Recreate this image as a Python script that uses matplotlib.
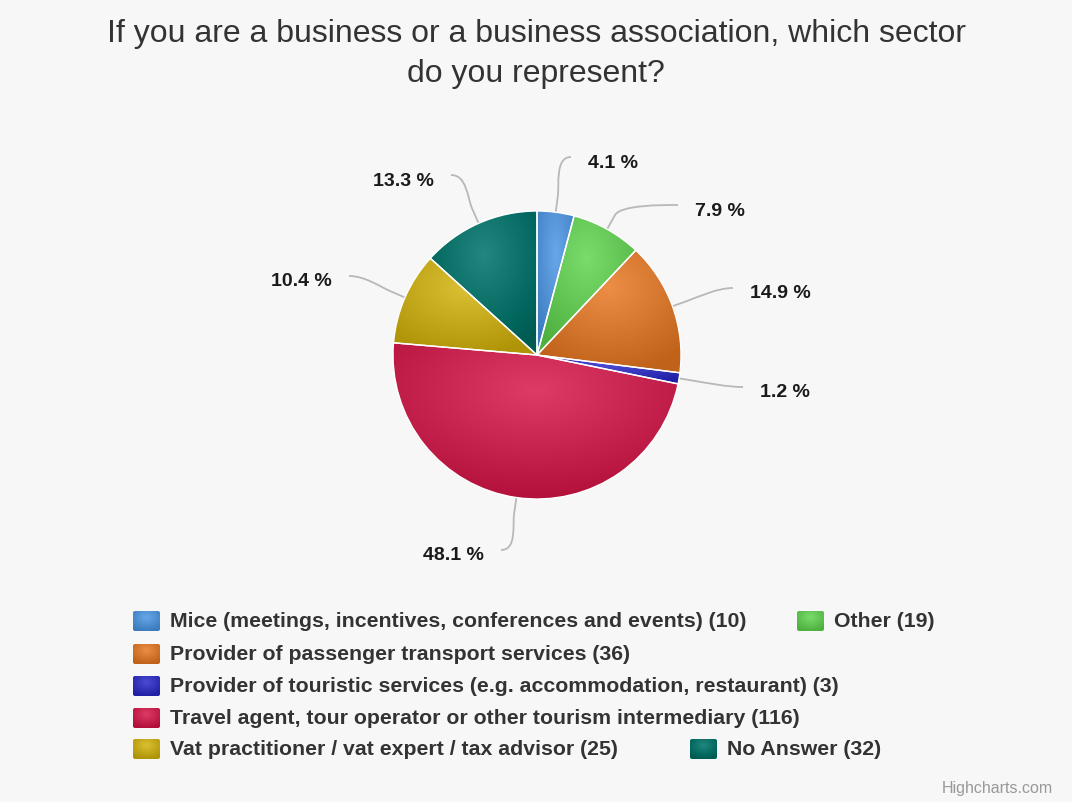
import numpy as np
import matplotlib
matplotlib.use('Agg')
import matplotlib.pyplot as plt
from matplotlib.path import Path
from matplotlib.patches import PathPatch, Wedge, Circle, FancyBboxPatch
from matplotlib.colors import to_rgb

# survey answers
title = 'If you are a business or a business association, which sector\ndo you represent?'
sectors = [
    'Mice (meetings, incentives, conferences and events)',
    'Other',
    'Provider of passenger transport services',
    'Provider of touristic services (e.g. accommodation, restaurant)',
    'Travel agent, tour operator or other tourism intermediary',
    'Vat practitioner / vat expert / tax advisor',
    'No Answer',
]
counts = [10, 19, 36, 3, 116, 25, 32]
colors = ['#68a8ea', '#7adc6a', '#ec8e46', '#4c4cd2', '#de3c66', '#dcc034', '#22887f']

W, H = 1072, 803
FONT = ['Liberation Sans', 'DejaVu Sans']

fig = plt.figure(figsize=(W / 100, H / 100), dpi=100)
fig.patch.set_facecolor('#f7f7f7')
ax = fig.add_axes([0, 0, 1, 1])
ax.set_xlim(0, W)
ax.set_ylim(H, 0)   # pixel-like coordinates, y grows downwards
ax.set_aspect('equal')
ax.axis('off')

cx, cy, R = 537, 356, 144
total = sum(counts)
fracs = np.array(counts) / total
edges = np.concatenate([[0], np.cumsum(fracs)])
# angles in data space (y down): start at the top, go clockwise on screen
th1 = -90 + 360 * edges[:-1]
th2 = -90 + 360 * edges[1:]
mid = np.radians((th1 + th2) / 2)


def gradient_rgb(base, X, Y, x0, y0, w, h, amount=0.17):
    # radial gradient in the slice's bounding box, centred at (0.5, 0.3), r = 0.7
    gx, gy = x0 + 0.5 * w, y0 + 0.3 * h
    t = np.sqrt(((X - gx) / (0.7 * w)) ** 2 + ((Y - gy) / (0.7 * h)) ** 2)
    t = np.clip(t, 0, 1)
    rgb = np.array(to_rgb(base))[None, None, :] - amount * t[..., None]
    return np.clip(rgb, 0, 1)


# pie body rendered as one image, each slice with its own gradient
xs = np.arange(cx - R - 2, cx + R + 2, 0.5)
ys = np.arange(cy - R - 2, cy + R + 2, 0.5)
X, Y = np.meshgrid(xs, ys)
ang = (np.degrees(np.arctan2(Y - cy, X - cx)) + 90) % 360 / 360
idx = np.clip(np.searchsorted(edges, ang, side='right') - 1, 0, len(counts) - 1)
img = np.zeros(X.shape + (3,))
for i, c in enumerate(colors):
    a = np.radians(np.linspace(th1[i], th2[i], 200))
    px = np.concatenate([[cx], cx + R * np.cos(a)])
    py = np.concatenate([[cy], cy + R * np.sin(a)])
    x0, y0 = px.min(), py.min()
    w, h = px.max() - x0, py.max() - y0
    g = gradient_rgb(c, X, Y, x0, y0, max(w, 1), max(h, 1))
    img[idx == i] = g[idx == i]

im = ax.imshow(img, extent=(xs[0], xs[-1], ys[-1], ys[0]), origin='upper',
               interpolation='bilinear', zorder=2)
im.set_clip_path(Circle((cx, cy), R, transform=ax.transData))

for i in range(len(counts)):
    ax.add_patch(Wedge((cx, cy), R, th1[i], th2[i], facecolor='none',
                       edgecolor='white', linewidth=1.0, zorder=3))

# data labels with soft connectors
label_xy = [(588, 163, 'left'), (695, 211, 'left'), (750, 294, 'left'),
            (760, 393, 'left'), (484, 556, 'right'), (332, 282, 'right'),
            (434, 181, 'right')]
for i, (lx, ly, side) in enumerate(label_xy):
    pct = 100 * fracs[i]
    ax.text(lx, ly, f'{pct:.1f} %', ha=side, va='center', fontsize=14,
            fontweight='bold', color='#1a1a1a', family=FONT, zorder=5)
    s = 1 if side == 'left' else -1
    ux, uy = np.cos(mid[i]), np.sin(mid[i])
    ex, ey = cx + R * ux, cy + R * uy
    p1x, p1y = ex + 16 * ux, ey + 16 * uy
    sx, sy = lx - s * 17, ly - 5
    verts = [(sx, sy), (sx - s * 16, sy), (p1x + 12 * ux, p1y + 12 * uy),
             (p1x, p1y), (ex, ey)]
    codes = [Path.MOVETO, Path.CURVE4, Path.CURVE4, Path.CURVE4, Path.LINETO]
    ax.add_patch(PathPatch(Path(verts, codes), facecolor='none',
                           edgecolor='#b8b8b8', linewidth=1.3, zorder=1))

# title
ax.text(W / 2, 54, title, ha='center', va='center', fontsize=23,
        color='#333333', family=FONT, linespacing=1.45)

# legend
leg_rows = [622, 655, 687, 719, 750]
leg_pos = [(133, 0), (797, 0), (133, 1), (133, 2), (133, 3), (133, 4), (690, 4)]
for i, (lx, r) in enumerate(leg_pos):
    y = leg_rows[r]
    sx, sy = np.meshgrid(np.linspace(lx, lx + 27, 30), np.linspace(y - 10, y + 10, 24))
    simg = gradient_rgb(colors[i], sx, sy, lx, y - 10, 27, 20)
    sim = ax.imshow(simg, extent=(lx, lx + 27, y + 10, y - 10), origin='upper',
                    interpolation='bilinear', zorder=3)
    box = FancyBboxPatch((lx, y - 10), 27, 20, boxstyle='round,pad=0,rounding_size=2',
                         facecolor='none', edgecolor='none', transform=ax.transData)
    ax.add_patch(box)
    sim.set_clip_path(box)
    ax.text(lx + 37, y, f'{sectors[i]} ({counts[i]})', ha='left', va='center',
            fontsize=15.3, fontweight='bold', color='#333333', family=FONT)

ax.text(1053, 789, 'Highcharts.com', ha='right', va='center', fontsize=11.5,
        color='#999999', family=FONT)

fig.savefig('out.png', dpi=100, facecolor=fig.get_facecolor())
